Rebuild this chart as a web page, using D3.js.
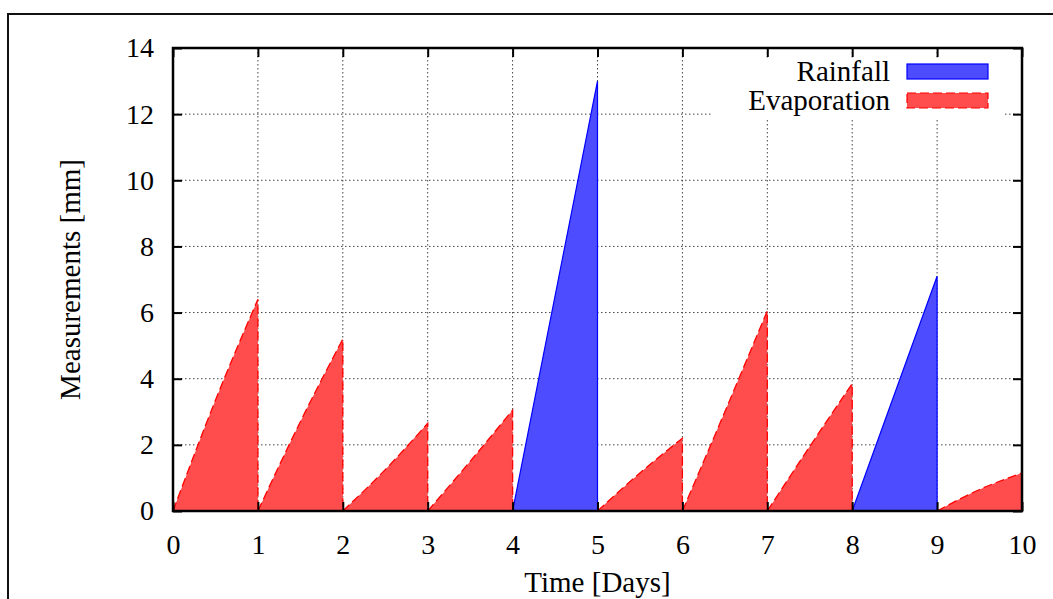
<!DOCTYPE html>
<html>
<head>
<meta charset="utf-8">
<script src="https://cdn.jsdelivr.net/npm/d3@7"></script>
<style>
  body { margin: 0; background: #fff; }
  text { font-family: "Liberation Serif", "Times New Roman", serif; fill: #000; }
</style>
</head>
<body>
<script>
// data
const xTicks = [0, 1, 2, 3, 4, 5, 6, 7, 8, 9, 10];
const yTicks = [0, 2, 4, 6, 8, 10, 12, 14];

// evaporation: each day starts at 0 and climbs (start, middle of day, end of day)
const evapStart = [0, 1, 2, 3, 5, 6, 7, 9];
const evapMid = [3.35, 2.7, 1.25, 1.5, 1.15, 3.0, 1.95, 0.65];
const evapEnd = [6.4, 5.2, 2.65, 3.05, 2.2, 6.05, 3.85, 1.15];

// rainfall days
const rainStart = [4, 8];
const rainEnd = [13.0, 7.1];

const seriesNames = ["Rainfall", "Evaporation"];

var w = 1053;
var h = 599;

const margin = {top: 48, right: 31, bottom: 88, left: 173};
const width = w - margin.left - margin.right,
    height = h - margin.top - margin.bottom;

const svg = d3.select("body").append("svg")
    .attr("width", w)
    .attr("height", h);

// outer frame (runs off the page on the right and bottom)
svg.append("rect")
    .attr("x", 8).attr("y", 14)
    .attr("width", 1200).attr("height", 800)
    .attr("fill", "none")
    .attr("stroke", "#111")
    .attr("stroke-width", 2);

const g = svg.append("g")
    .attr("transform", "translate(" + margin.left + "," + margin.top + ")");

var x = d3.scaleLinear().domain([0, 10]).range([0, width]);
var y = d3.scaleLinear().domain([0, 14]).range([height, 0]);

var red = "rgb(255,77,77)";
var blue = "rgb(77,77,255)";

// grid
g.append("g")
    .selectAll("line.gx")
    .data(xTicks.slice(1, -1))
    .enter().append("line")
    .attr("x1", d => x(d)).attr("x2", d => x(d))
    .attr("y1", 0).attr("y2", height)
    .attr("stroke", "#444")
    .attr("stroke-width", 1)
    .attr("stroke-dasharray", "1.5,2.5");

g.append("g")
    .selectAll("line.gy")
    .data(yTicks.slice(1, -1))
    .enter().append("line")
    .attr("x1", 0).attr("x2", width)
    .attr("y1", d => y(d)).attr("y2", d => y(d))
    .attr("stroke", "#444")
    .attr("stroke-width", 1)
    .attr("stroke-dasharray", "1.5,2.5");

// evaporation areas
var evapData = evapStart.map(function(s, i) {
    return [[s, 0], [s + 0.5, evapMid[i]], [s + 1, evapEnd[i]]];
});

var evapArea = d3.area()
    .x(d => x(d[0]))
    .y0(y(0))
    .y1(d => y(d[1]))
    .curve(d3.curveMonotoneX);

var evapLine = d3.line()
    .x(d => x(d[0]))
    .y(d => y(d[1]))
    .curve(d3.curveMonotoneX);

g.selectAll("path.evap")
    .data(evapData)
    .enter().append("path")
    .attr("d", evapArea)
    .attr("fill", red)
    .attr("stroke", "none");

g.selectAll("path.evapEdge")
    .data(evapData)
    .enter().append("path")
    .attr("d", function(d) {
        var last = d[d.length - 1];
        return evapLine(d) + "L" + x(last[0]) + "," + y(0);
    })
    .attr("fill", "none")
    .attr("stroke", "red")
    .attr("stroke-width", 1.3)
    .attr("stroke-dasharray", "9,4");

// rainfall triangles
var rainData = rainStart.map(function(s, i) {
    return [[s, 0], [s + 1, rainEnd[i]]];
});

g.selectAll("path.rain")
    .data(rainData)
    .enter().append("path")
    .attr("d", function(d) {
        return "M" + x(d[0][0]) + "," + y(0) +
            "L" + x(d[1][0]) + "," + y(d[1][1]) +
            "L" + x(d[1][0]) + "," + y(0) + "Z";
    })
    .attr("fill", blue)
    .attr("stroke", "blue")
    .attr("stroke-width", 1.2);

// legend (white box over the grid)
var legend = g.append("g")
    .attr("transform", "translate(" + (x(10) - 299) + ",16)");

legend.append("rect")
    .attr("x", -10).attr("y", -6)
    .attr("width", 292).attr("height", 60)
    .attr("fill", "#fff");

seriesNames.forEach(function(name, i) {
    var ly = i * 29;
    legend.append("text")
        .attr("x", 167)
        .attr("y", ly + 17)
        .attr("text-anchor", "end")
        .style("font-size", "29px")
        .text(name);
    legend.append("rect")
        .attr("x", 184)
        .attr("y", ly)
        .attr("width", 81)
        .attr("height", 15)
        .attr("fill", i == 0 ? blue : red)
        .attr("stroke", i == 0 ? "blue" : "red")
        .attr("stroke-width", 1.2)
        .attr("stroke-dasharray", i == 0 ? null : "9,4");
});

// axes: inward ticks on all four sides
var tickLen = 9;

g.append("g")
    .attr("transform", "translate(0," + height + ")")
    .call(d3.axisBottom(x).tickValues(xTicks).tickSizeInner(-tickLen).tickSizeOuter(0).tickPadding(tickLen + 14))
    .call(a => a.select(".domain").remove())
    .call(a => a.selectAll("line").attr("stroke-width", 2))
    .call(a => a.selectAll("text").style("font-size", "28px"));

g.append("g")
    .call(d3.axisTop(x).tickValues(xTicks).tickSizeInner(-tickLen).tickSizeOuter(0).tickFormat(""))
    .call(a => a.select(".domain").remove())
    .call(a => a.selectAll("line").attr("stroke-width", 2));

g.append("g")
    .call(d3.axisLeft(y).tickValues(yTicks).tickSizeInner(-tickLen).tickSizeOuter(0).tickPadding(tickLen + 10))
    .call(a => a.select(".domain").remove())
    .call(a => a.selectAll("line").attr("stroke-width", 2))
    .call(a => a.selectAll("text").style("font-size", "28px"));

g.append("g")
    .attr("transform", "translate(" + width + ",0)")
    .call(d3.axisRight(y).tickValues(yTicks).tickSizeInner(-tickLen).tickSizeOuter(0).tickFormat(""))
    .call(a => a.select(".domain").remove())
    .call(a => a.selectAll("line").attr("stroke-width", 2));

// plot border
g.append("rect")
    .attr("x", 0).attr("y", 0)
    .attr("width", width).attr("height", height)
    .attr("fill", "none")
    .attr("stroke", "#000")
    .attr("stroke-width", 2.5);

// axis titles
g.append("text")
    .attr("x", width / 2)
    .attr("y", height + 81)
    .attr("text-anchor", "middle")
    .style("font-size", "29px")
    .text("Time [Days]");

g.append("text")
    .attr("transform", "translate(" + (-93) + "," + (height / 2) + ") rotate(-90)")
    .attr("text-anchor", "middle")
    .style("font-size", "29px")
    .text("Measurements [mm]");
</script>
</body>
</html>
